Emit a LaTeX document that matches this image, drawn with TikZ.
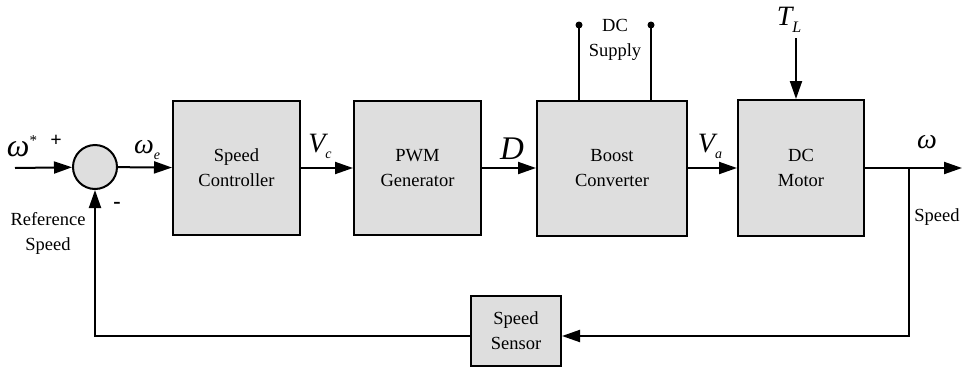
\documentclass[tikz,border=0pt]{standalone}
\usepackage{fontspec}
\setmainfont{Liberation Serif}
\usetikzlibrary{arrows.meta}
\definecolor{boxgray}{HTML}{DEDEDE}

\begin{document}
\begin{tikzpicture}[x=1pt, y=-1pt,
every node/.style={font=\fontsize{18.5}{25}\selectfont, align=center, inner sep=1pt},
blk/.style={draw, line width=2pt, fill=boxgray, inner sep=0pt},
sig/.style={line width=2pt, -{Triangle[length=18pt,width=12pt]}},
wire/.style={line width=2pt},
lbl/.style={font=\fontsize{28}{28}\selectfont\itshape}
]
\useasboundingbox (0,0) rectangle (964,370);

% blocks
\node[blk, circle, minimum size=44pt] (sum) at (95,167) {};
\node[blk, minimum width=127pt, minimum height=134pt] (ctrl) at (236.5,168) {Speed\\Controller};
\node[blk, minimum width=127pt, minimum height=134pt] (pwm) at (417.5,168) {PWM\\Generator};
\node[blk, minimum width=150pt, minimum height=135pt] (boost) at (612,168) {Boost\\Converter};
\node[blk, minimum width=126pt, minimum height=136pt] (motor) at (801,168) {DC\\Motor};
\node[blk, minimum width=90pt, minimum height=70pt] (sensor) at (516,331) {Speed\\Sensor};

\coordinate (in) at (15,168);
\coordinate (out) at (962,168);
\coordinate (br) at (909,168);
\coordinate (brdown) at (909,336);
\coordinate (fbleft) at (95,336);
\coordinate (dcA) at (579,25);
\coordinate (dcB) at (651,25);
\coordinate (load) at (796,38);

% forward path
\draw[sig] (in) -- (sum);
\foreach \a/\b in {sum/ctrl, ctrl/pwm, pwm/boost, boost/motor}
    \draw[sig] (\a) -- (\b);
\draw[sig] (motor) -- (out);

% feedback
\draw[sig] (br) -- (brdown) -- (sensor.east |- brdown);
\draw[sig] (sensor.west |- fbleft) -- (fbleft) -- (sum);

% supply and load
\draw[wire] (boost.north -| dcA) -- (dcA);
\draw[wire] (boost.north -| dcB) -- (dcB);
\fill (dcA) circle (3.5pt) (dcB) circle (3.5pt);
\draw[sig] (load) -- (motor.north -| load);

% labels
\node[lbl, font=\fontsize{32}{32}\selectfont\itshape] (wref) at (22,146) {ω\raisebox{11pt}{\fontsize{15}{15}\selectfont\upshape *}};
\node[font=\fontsize{20}{20}\selectfont\bfseries] (plus) at (56,141) {+};
\node (refspd) at (48,233) {Reference\\Speed};
\node[font=\fontsize{22}{22}\selectfont\bfseries] (minus) at (117,205) {-};
\node[lbl] (we) at (147,150) {ω\raisebox{-6pt}{\fontsize{14}{14}\selectfont e}};
\node[lbl] (vc) at (320,146) {V\raisebox{-6pt}{\fontsize{14}{14}\selectfont c}};
\node[lbl, font=\fontsize{33}{33}\selectfont\itshape] (dd) at (512,149) {D};
\node[lbl] (va) at (710,146) {V\raisebox{-6pt}{\fontsize{14}{14}\selectfont a}};
\node[lbl] (wout) at (927,142) {ω};
\node (spd) at (937,217) {Speed};
\node (dcs) at (615,40) {DC\\Supply};
\node[lbl] (tl) at (789,20) {T\raisebox{-7pt}{\fontsize{16}{16}\selectfont L}};
\end{tikzpicture}
\end{document}
